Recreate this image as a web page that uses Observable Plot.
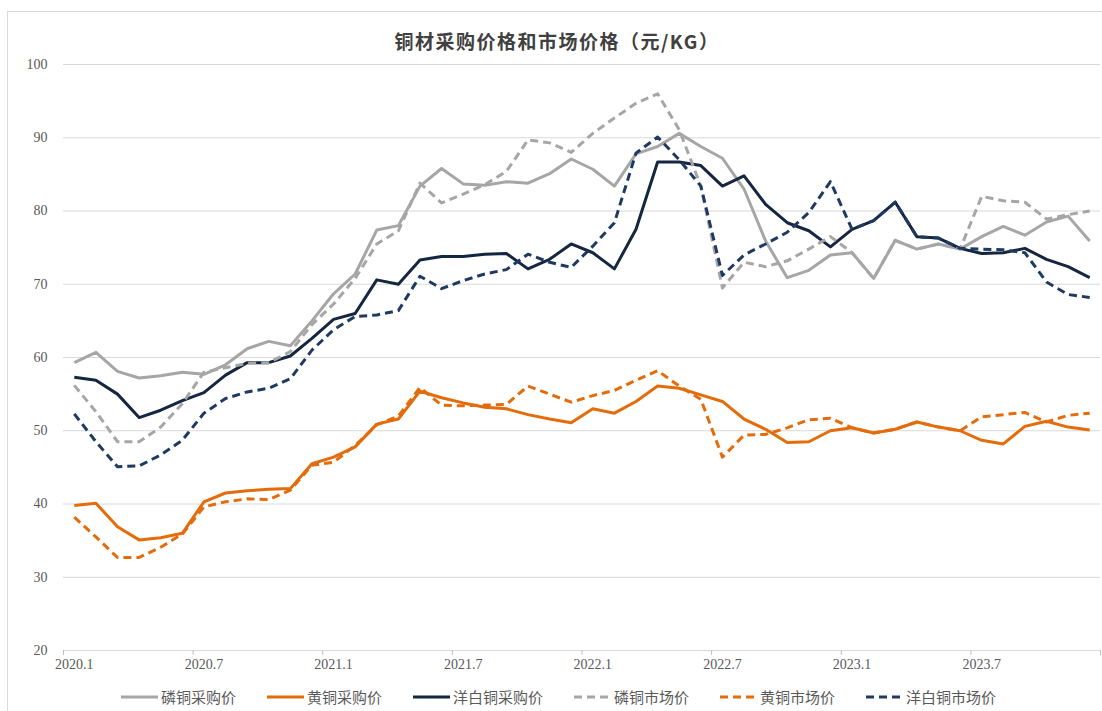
<!DOCTYPE html>
<html>
<head>
<meta charset="utf-8">
<script src="https://cdn.jsdelivr.net/npm/d3@7"></script>
<script src="https://cdn.jsdelivr.net/npm/@observablehq/plot@0.6"></script>
<style>
  body { margin: 0; background: #fff; }
  #wrap { position: relative; width: 1102px; height: 711px; overflow: hidden; background: #fff; }
  #frame { position: absolute; left: 7px; top: 11px; width: 1200px; height: 800px; border: 1px solid #d9d9d9; box-sizing: border-box; }
  #title { position: absolute; left: 0; width: 1114px; top: 27px; text-align: center; letter-spacing: 1.5px;
           font-family: "Noto Sans CJK SC", sans-serif; font-weight: 700; font-size: 19px; color: #404040; }
  #chart { position: absolute; left: 0; top: 0; }
  #legend { position: absolute; top: 686px; left: 121px; display: flex; gap: 31px; align-items: center;
            font-family: "Noto Sans CJK SC", sans-serif; font-size: 15px; color: #595959; white-space: nowrap; }
  .item { display: flex; align-items: center; }
  .item svg { margin-right: 3px; }
</style>
</head>
<body>
<div id="wrap">
  <div id="frame"></div>
  <div id="chart"></div>
  <div id="title"></div>
  <div id="legend"></div>
</div>
<script>
const titleText = "铜材采购价格和市场价格（元/KG）";
const years = [2020, 2021, 2022, 2023];
const monthNums = [1,2,3,4,5,6,7,8,9,10,11,12];
const months = years.flatMap(y => monthNums.map(m => `${y}.${m}`));
const xTickLabels = ["2020.1","2020.7","2021.1","2021.7","2022.1","2022.7","2023.1","2023.7"];
const yTicks = [20,30,40,50,60,70,80,90,100];

const seriesNames = ["磷铜采购价","黄铜采购价","洋白铜采购价","磷铜市场价","黄铜市场价","洋白铜市场价"];

const phosphorPurchase = [59.3,60.7,58.1,57.2,57.5,58.0,57.7,59.0,61.2,62.2,61.6,65.0,
  68.7,71.4,77.4,78.0,83.4,85.8,83.7,83.5,84.0,83.8,85.1,87.1,
  85.7,83.4,87.8,88.8,90.6,88.8,87.2,83.0,75.9,70.9,71.9,74.0,
  74.3,70.8,76.0,74.8,75.5,74.8,76.5,77.9,76.7,78.5,79.3,75.9];
const brassPurchase = [39.8,40.1,36.9,35.1,35.4,36.0,40.3,41.5,41.8,42.0,42.1,45.5,
  46.4,47.8,50.9,51.6,55.4,54.5,53.8,53.2,53.0,52.2,51.6,51.1,
  53.0,52.4,54.0,56.1,55.8,54.9,54.0,51.6,50.2,48.4,48.5,50.0,
  50.4,49.7,50.2,51.2,50.5,50.0,48.7,48.2,50.6,51.3,50.5,50.1];
const nickelPurchase = [57.3,56.9,55.0,51.8,52.8,54.1,55.2,57.6,59.3,59.3,60.2,62.6,
  65.2,66.0,70.6,70.0,73.3,73.8,73.8,74.1,74.2,72.1,73.4,75.5,
  74.3,72.1,77.5,86.7,86.7,86.2,83.4,84.8,80.9,78.4,77.3,75.1,
  77.5,78.7,81.2,76.5,76.3,74.9,74.2,74.3,74.9,73.4,72.4,70.9];
const phosphorMarket = [56.2,52.6,48.5,48.5,50.5,53.7,58.0,58.6,59.2,59.3,60.8,64.5,
  67.3,70.8,75.5,77.3,83.8,81.1,82.3,83.6,85.4,89.7,89.3,88.0,
  90.6,92.7,94.7,96.0,91.1,83.4,69.5,73.0,72.4,73.2,74.8,76.5,
  74.3,70.8,76.0,74.8,75.5,74.8,82.0,81.4,81.2,78.9,79.5,80.0];
const brassMarket = [38.2,35.5,32.7,32.7,34.1,35.9,39.6,40.3,40.7,40.6,41.9,45.3,
  45.7,48.0,50.8,52.0,55.9,53.5,53.4,53.5,53.6,56.1,55.0,53.9,
  54.8,55.5,56.9,58.2,56.1,54.3,46.4,49.4,49.5,50.4,51.5,51.7,
  50.4,49.7,50.2,51.2,50.5,50.0,51.9,52.2,52.5,51.2,52.1,52.4];
const nickelMarket = [52.3,48.5,45.1,45.2,46.7,48.7,52.4,54.4,55.3,55.8,57.1,61.0,
  63.8,65.6,65.8,66.4,71.1,69.4,70.5,71.4,72.0,74.1,73.0,72.3,
  75.2,78.4,87.9,90.1,87.0,83.4,71.2,74.0,75.5,77.1,79.8,84.0,
  77.5,78.7,81.2,76.5,76.3,74.9,74.8,74.7,74.3,70.3,68.6,68.2];

const seriesValues = [phosphorPurchase, brassPurchase, nickelPurchase, phosphorMarket, brassMarket, nickelMarket];
const colors = ["#a6a6a6","#e46c0a","#142640","#a6a6a6","#e46c0a","#1f3a60"];
const dashed = [false,false,false,true,true,true];

const W = 1102, H = 711, mL = 63, mR = 2, mT = 64, mB = 61;
const step = (W - mL - mR) / months.length;

const lineMarks = seriesNames.map((name, k) =>
  Plot.line(seriesValues[k].map((v, i) => ({date: months[i], value: v})), {
    x: "date", y: "value", stroke: colors[k], strokeWidth: 3,
    strokeDasharray: dashed[k] ? "8,5" : null,
    strokeLinejoin: "round", strokeLinecap: "butt"
  })
);

const chart = Plot.plot({
  width: W, height: H,
  marginTop: mT, marginBottom: mB, marginLeft: mL, marginRight: mR,
  style: {fontFamily: "'Liberation Serif', serif", fontSize: "14px", color: "#595959", background: "transparent", overflow: "visible"},
  x: {type: "point", domain: months, padding: 0.5, align: 0.5, round: false},
  y: {domain: [20, 100]},
  marks: [
    Plot.gridY(yTicks, {stroke: "#d9d9d9", strokeOpacity: 1, strokeWidth: 1}),
    Plot.axisY(yTicks, {tickSize: 0, tickPadding: 16, label: null, fill: "#595959"}),
    Plot.axisX(xTickLabels, {tickSize: 0, tickPadding: 9, label: null, fill: "#595959"}),
    Plot.axisX(xTickLabels, {tickSize: 5, tickFormat: () => "", dx: -step / 2, label: null, stroke: "#bfbfbf"}),
    Plot.axisX([months[months.length - 1]], {tickSize: 5, tickFormat: () => "", dx: step / 2, label: null, stroke: "#bfbfbf"}),
    ...lineMarks
  ]
});
document.getElementById("chart").appendChild(chart);
document.getElementById("title").textContent = titleText;

const legend = document.getElementById("legend");
seriesNames.forEach((name, k) => {
  const item = document.createElement("div");
  item.className = "item";
  item.innerHTML = `<svg width="37" height="10"><line x1="0" x2="37" y1="5" y2="5" stroke="${colors[k]}" stroke-width="3" ${dashed[k] ? 'stroke-dasharray="8,5"' : ''}/></svg><span>${name}</span>`;
  legend.appendChild(item);
});
</script>
</body>
</html>
